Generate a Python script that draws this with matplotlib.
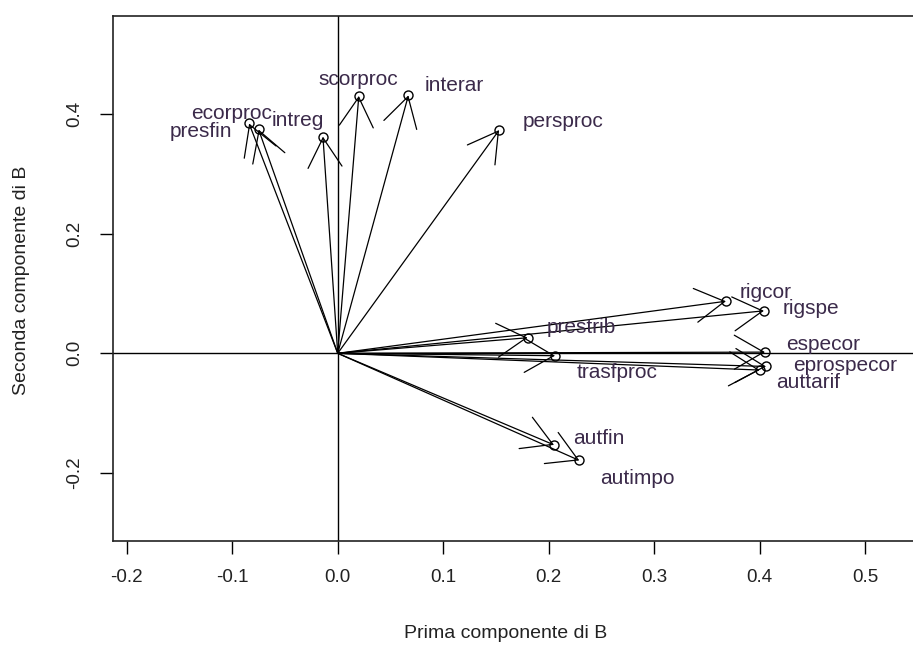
import matplotlib
matplotlib.use("Agg")
import matplotlib.pyplot as plt

plt.rcParams['font.family'] = ['Liberation Sans', 'DejaVu Sans']

# Loadings of each variable on the first two components of B
variables = ['ecorproc', 'presfin', 'intreg', 'scorproc', 'interar', 'persproc',
             'rigcor', 'rigspe', 'prestrib', 'trasfproc', 'especor',
             'eprospecor', 'auttarif', 'autfin', 'autimpo']
comp1 = [-0.084, -0.075, -0.014, 0.020, 0.067, 0.153,
         0.368, 0.404, 0.180, 0.206, 0.405,
         0.406, 0.400, 0.205, 0.229]
comp2 = [0.384, 0.374, 0.362, 0.430, 0.431, 0.373,
         0.087, 0.071, 0.026, -0.004, 0.002,
         -0.022, -0.028, -0.153, -0.179]

x_ticks = [-0.2, -0.1, 0.0, 0.1, 0.2, 0.3, 0.4, 0.5]
y_ticks = [-0.2, 0.0, 0.2, 0.4]

# label placement relative to each point (pixels, right / up)
label_dx = [-18, -58, -25, -1, 46, 64, 40, 47, 54, 62, 58, 79, 48, 45, 58]
label_dy = [10, -2, 16, 16, 10, 9, 9, 2, 10, -17, 8, 1, -12, 6, -18]

W, H, DPI = 913, 646, 100
fig = plt.figure(figsize=(W / DPI, H / DPI), dpi=DPI)
left, right, top, bottom = 113, 930, 16, 541
ax = fig.add_axes([left / W, 1 - bottom / H, (right - left) / W, (bottom - top) / H])

ax.set_xlim(-0.213, (right - 337.7) / 1055)
ax.set_ylim(-0.3136, 0.5636)

ax.axhline(0, color='black', lw=1)
ax.axvline(0, color='black', lw=1)

# arrows from the origin with open V heads (30 degrees)
px = DPI / 72.0
head_len = 29.4 / px
head_w = 17.0 / px
for x, y in zip(comp1, comp2):
    ax.annotate('', xy=(x, y), xytext=(0, 0),
                arrowprops=dict(arrowstyle=f'->,head_length={head_len},head_width={head_w}',
                                mutation_scale=1, shrinkA=0, shrinkB=0,
                                color='black', lw=0.9))

ax.plot(comp1, comp2, linestyle='none', marker='o', ms=6.5, mfc='none',
        mec='black', mew=1)

for name, x, y, dx, dy in zip(variables, comp1, comp2, label_dx, label_dy):
    ax.annotate(name, xy=(x, y), xytext=(dx, dy), textcoords='offset pixels',
                ha='center', va='center', fontsize=15, color='#3b2a4a')

ax.set_xticks(x_ticks)
ax.set_xticklabels([f'{v:.1f}' for v in x_ticks])
ax.set_yticks(y_ticks)
ax.set_yticklabels([f'{v:.1f}' for v in y_ticks], rotation=90, va='center')
ax.tick_params(axis='both', direction='out', length=9.4, width=1, labelsize=13.5,
               color='black', labelcolor='#222222')
ax.tick_params(axis='x', pad=11)
ax.tick_params(axis='y', pad=12)

for s in ax.spines.values():
    s.set_linewidth(1.2)
    s.set_color('#222222')

fig.text(506 / W, 1 - 633 / H, 'Prima componente di B', ha='center', va='center',
         fontsize=14, color='#222222')
fig.text(22 / W, 1 - 280 / H, 'Seconda componente di B', ha='center', va='center',
         rotation=90, fontsize=14, color='#222222')

fig.savefig('out.png', dpi=DPI)
